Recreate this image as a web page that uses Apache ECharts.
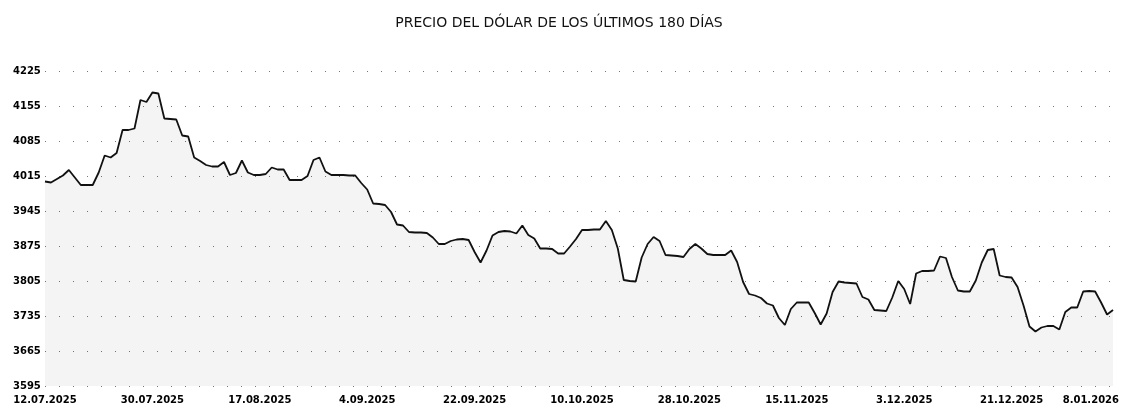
<!DOCTYPE html>
<html>
<head>
<meta charset="utf-8">
<title>Precio del dólar</title>
<script src="https://cdn.jsdelivr.net/npm/echarts@6/dist/echarts.min.js"></script>
<style>
  html, body { margin: 0; padding: 0; background: #fff; }
  #chart { width: 1123px; height: 408px; }
</style>
</head>
<body>
<div id="chart"></div>
<script>
// dias: 12.07.2025 .. 8.01.2026 (181 fechas, 180 valores)
const startDate = Date.UTC(2025, 6, 12);
const dates = [];
for (let i = 0; i <= 180; i++) {
  const d = new Date(startDate + i * 86400000);
  const mm = String(d.getUTCMonth() + 1).padStart(2, '0');
  dates.push(d.getUTCDate() + '.' + mm + '.' + d.getUTCFullYear());
}

// valores
const julAgo = [
  4004, 4002, 4009, 4016, 4027, 4012, 3997, 3997, 3997, 4022,
  4056, 4052, 4061, 4107, 4107, 4110, 4167, 4163, 4182, 4180,
  4130, 4129, 4128, 4096, 4094, 4052, 4045, 4037, 4034, 4034,
  4043, 4017, 4021, 4046, 4022, 4017, 4017, 4019, 4032, 4028,
  4028, 4007, 4007, 4007, 4015, 4047, 4052, 4024, 4017, 4017
];
const sepOct = [
  4017, 4016, 4016, 4001, 3988, 3960, 3959, 3957, 3943, 3918,
  3916, 3903, 3902, 3902, 3901, 3892, 3879, 3879, 3885, 3888,
  3889, 3887, 3863, 3842, 3866, 3896, 3903, 3905, 3904, 3900,
  3916, 3897, 3890, 3870, 3870, 3869, 3860, 3860, 3874, 3889,
  3907, 3907, 3908, 3908, 3925, 3907, 3870, 3807, 3805, 3804
];
const octDic = [
  3852, 3879, 3893, 3885, 3857, 3856, 3855, 3853, 3869, 3879,
  3870, 3859, 3857, 3857, 3857, 3866, 3843, 3803, 3779, 3776,
  3771, 3760, 3756, 3731, 3717, 3749, 3762, 3762, 3762, 3741,
  3718, 3740, 3783, 3804, 3802, 3801, 3800, 3773, 3768, 3747,
  3746, 3745, 3772, 3805, 3789, 3759, 3820, 3825, 3825, 3826
];
const dicEne = [
  3854, 3851, 3813, 3786, 3784, 3784, 3806, 3842, 3867, 3869,
  3816, 3813, 3812, 3793, 3756, 3714, 3704, 3712, 3715, 3715,
  3708, 3743, 3752, 3752, 3784, 3785, 3784, 3762, 3738, 3747
];
const precios = julAgo.concat(sepOct, octDic, dicEne);

const yMin = 3595;
const yMax = 4225;
const yStep = 70;

const chart = echarts.init(document.getElementById('chart'));
chart.setOption({
  animation: false,
  backgroundColor: '#fff',
  title: {
    text: 'PRECIO DEL DÓLAR DE LOS ÚLTIMOS 180 DÍAS',
    left: 554,
    top: 11,
    textAlign: 'center',
    textStyle: {
      fontFamily: 'DejaVu Sans',
      fontSize: 14,
      fontWeight: 'normal',
      color: '#111'
    }
  },
  grid: {
    left: 45,
    right: 4,
    top: 71,
    bottom: 22,
    containLabel: false
  },
  xAxis: {
    type: 'category',
    data: dates,
    boundaryGap: false,
    axisLine: { show: false },
    axisTick: { show: false },
    axisLabel: {
      interval: 17,
      margin: 9,
      alignMaxLabel: 'right',
      fontFamily: 'DejaVu Sans',
      fontSize: 10,
      fontWeight: 'bold',
      color: '#000'
    },
    splitLine: { show: false }
  },
  yAxis: {
    type: 'value',
    min: yMin,
    max: yMax,
    interval: yStep,
    axisLine: { show: false },
    axisTick: { show: false },
    axisLabel: {
      align: 'left',
      margin: 32,
      formatter: v => String(v),
      fontFamily: 'DejaVu Sans',
      fontSize: 10,
      fontWeight: 'bold',
      color: '#000'
    },
    splitLine: {
      show: true,
      lineStyle: { color: '#777', width: 1, type: [1, 13] }
    }
  },
  series: [{
    type: 'line',
    data: precios,
    showSymbol: false,
    lineStyle: { color: '#111', width: 1.8 },
    areaStyle: { color: 'rgba(0,0,0,0.06)' }
  }]
});
</script>
</body>
</html>
